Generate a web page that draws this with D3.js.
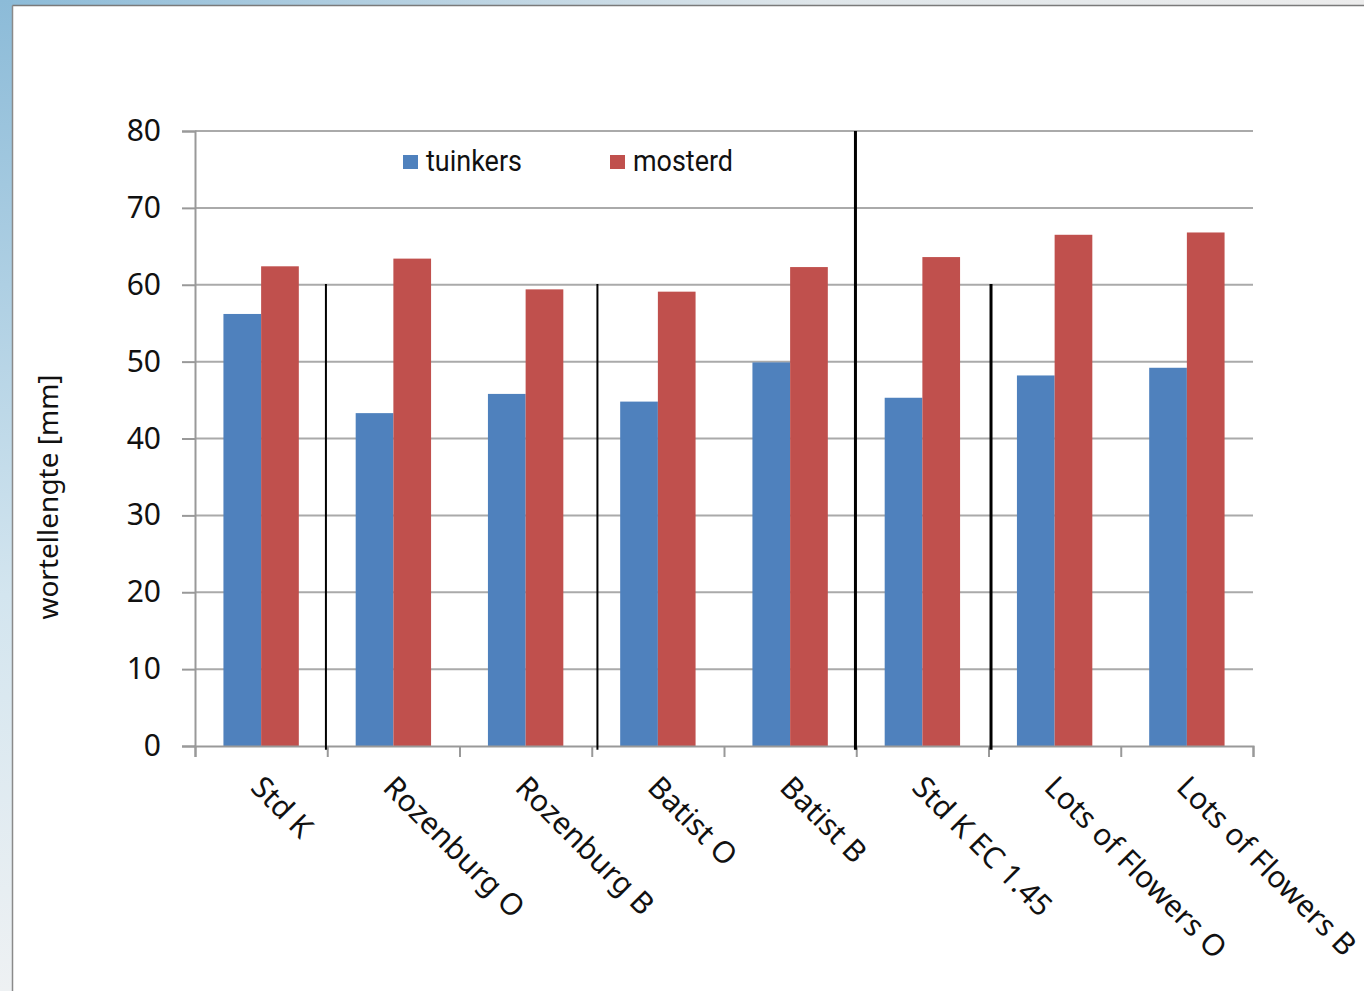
<!DOCTYPE html>
<html><head><meta charset="utf-8">
<script src="https://cdn.jsdelivr.net/npm/d3@7"></script>
<style>html,body{margin:0;padding:0;background:#fff;overflow:hidden}</style>
</head><body>
<svg id="c" width="1364" height="991"></svg>
<script>
const categories = ["Std K","Rozenburg O","Rozenburg B","Batist O","Batist B","Std K EC 1.45","Lots of Flowers O","Lots of Flowers B"];
const tuinkers = [56.2, 43.3, 45.8, 44.8, 49.9, 45.3, 48.2, 49.2];
const mosterd  = [62.4, 63.4, 59.4, 59.1, 62.3, 63.6, 66.5, 66.8];
const seriesNames = ["tuinkers","mosterd"];
const seriesColors = ["#4f81bd","#c0504d"];
const yTicks = [0,10,20,30,40,50,60,70,80];
// hand-drawn separator lines: position in category units, top value, stroke width
const sepPos = [0.99, 3.043, 4.994, 6.019];
const sepTop = [60.1, 60.1, 80, 60.1];
const sepW = [2, 2, 3, 3];

const svg = d3.select("#c");
const defs = svg.append("defs");
const gl = defs.append("linearGradient").attr("id","gl").attr("x1",0).attr("y1",0).attr("x2",0).attr("y2",1);
gl.append("stop").attr("offset","0").attr("stop-color","#8cbbd8");
gl.append("stop").attr("offset","0.6").attr("stop-color","#d3e5ef");
gl.append("stop").attr("offset","1").attr("stop-color","#eef1f3");
const gt = defs.append("linearGradient").attr("id","gt").attr("x1",0).attr("y1",0).attr("x2",1).attr("y2",0);
gt.append("stop").attr("offset","0").attr("stop-color","#8cbbd8");
gt.append("stop").attr("offset","0.6").attr("stop-color","#dfe6ea");
gt.append("stop").attr("offset","1").attr("stop-color","#ececec");
svg.append("rect").attr("x",0).attr("y",0).attr("width",1364).attr("height",6).attr("fill","url(#gt)");
svg.append("rect").attr("x",0).attr("y",0).attr("width",13).attr("height",991).attr("fill","url(#gl)");
svg.append("rect").attr("x",13).attr("y",6).attr("width",1351).attr("height",985).attr("fill","#fff");
svg.append("line").attr("x1",12.5).attr("x2",1364).attr("y1",5.5).attr("y2",5.5).attr("stroke","#7a7a7a").attr("stroke-width",1.5);
svg.append("line").attr("x1",12.5).attr("x2",12.5).attr("y1",5.5).attr("y2",991).attr("stroke","#8a8a8a").attr("stroke-width",1.5);

const x0 = 195, x1 = 1253, yb = 746, yt = 131;
const x = d3.scaleBand().domain(categories).range([x0,x1]).paddingInner(0).paddingOuter(0);
const xu = d3.scaleLinear().domain([0,categories.length]).range([x0,x1]);
const y = d3.scaleLinear().domain([0,80]).range([yb,yt]);
const groupW = x.bandwidth()*0.57;
const xs = d3.scaleBand().domain(seriesNames).range([0,groupW]);

// gridlines
svg.append("g").selectAll("line").data(yTicks.filter(d=>d>0)).join("line")
  .attr("x1",x0).attr("x2",x1).attr("y1",d=>y(d)).attr("y2",d=>y(d))
  .attr("stroke","#aaaaaa").attr("stroke-width",2);

// bars
const data = categories.map((c,i)=>({c, vals:[tuinkers[i], mosterd[i]]}));
const g = svg.append("g").selectAll("g").data(data).join("g")
  .attr("transform",d=>`translate(${x(d.c)+(x.bandwidth()-groupW)/2},0)`);
g.selectAll("rect").data(d=>d.vals.map((v,j)=>({v, s:seriesNames[j], col:seriesColors[j]}))).join("rect")
  .attr("x",d=>xs(d.s)).attr("width",xs.bandwidth())
  .attr("y",d=>y(d.v)).attr("height",d=>y(0)-y(d.v)).attr("fill",d=>d.col);

// y axis
const ya = d3.axisLeft(y).tickValues(yTicks).tickSize(13).tickPadding(21);
const yg = svg.append("g").attr("transform",`translate(${x0},0)`).call(ya);
yg.select(".domain").attr("stroke","#999").attr("stroke-width",2);
yg.selectAll(".tick line").attr("stroke","#999").attr("stroke-width",2);
yg.selectAll(".tick text").attr("font-family","'Noto Sans', 'Open Sans', sans-serif").attr("font-size",30).attr("fill","#111");

// x axis
const xa = d3.axisBottom(xu).tickValues(d3.range(0,categories.length+1)).tickSize(11).tickFormat("");
const xg = svg.append("g").attr("transform",`translate(0,${yb})`).call(xa);
xg.select(".domain").attr("stroke","#999").attr("stroke-width",2);
xg.selectAll(".tick line").attr("stroke","#999").attr("stroke-width",2);

// category labels
svg.append("g").selectAll("text").data(categories).join("text")
  .attr("transform",d=>`translate(${x(d)+x.bandwidth()/2-12},789) rotate(45)`)
  .attr("font-family","'Noto Sans', 'Open Sans', sans-serif").attr("font-size",30).attr("fill","#111")
  .text(d=>d);

// y title
svg.append("text").attr("transform","translate(58,497) rotate(-90)").attr("text-anchor","middle")
  .attr("font-family","'Noto Sans', 'Open Sans', sans-serif").attr("font-size",28).attr("fill","#111")
  .text("wortellengte [mm]");

// separators
svg.append("g").selectAll("line").data(sepPos).join("line")
  .attr("x1",d=>xu(d)).attr("x2",d=>xu(d)).attr("y1",(d,i)=>y(sepTop[i])).attr("y2",y(-0.5))
  .attr("stroke","#000").attr("stroke-width",(d,i)=>sepW[i]);

// legend
const legX = [403, 610];
const legW = [96, 100];
const lg = svg.append("g").selectAll("g").data(seriesNames).join("g")
  .attr("transform",(d,i)=>`translate(${legX[i]},155)`);
lg.append("rect").attr("width",15).attr("height",14).attr("fill",(d,i)=>seriesColors[i]);
lg.append("text").attr("x",23).attr("y",16).attr("font-family","Roboto, sans-serif").attr("font-size",30).attr("fill","#111")
  .attr("textLength",(d,i)=>legW[i]).attr("lengthAdjust","spacingAndGlyphs").text(d=>d);
</script>
</body></html>
